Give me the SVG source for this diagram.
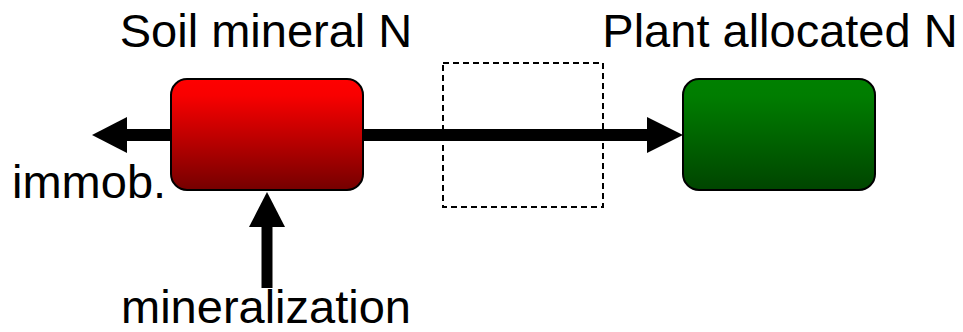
<svg xmlns="http://www.w3.org/2000/svg" width="963" height="332" viewBox="0 0 963 332">
<defs>
<linearGradient id="gRed" x1="0" y1="0" x2="0" y2="1">
<stop offset="0" stop-color="#ff0000"/>
<stop offset="0.15" stop-color="#f80000"/>
<stop offset="1" stop-color="#750000"/>
</linearGradient>
<linearGradient id="gGreen" x1="0" y1="0" x2="0" y2="1">
<stop offset="0" stop-color="#008000"/>
<stop offset="0.15" stop-color="#007d00"/>
<stop offset="1" stop-color="#004500"/>
</linearGradient>
<style>
.box{stroke:#000;stroke-width:2}
.lbl{font-family:"Liberation Sans",Arial,sans-serif;font-size:47px;fill:#000}
.shaft{stroke:#000;stroke-width:12;fill:none}
.head{fill:#000}
</style>
</defs>
<rect x="443" y="63" width="160" height="144" fill="none" stroke="#000" stroke-width="2" stroke-dasharray="6,4"/>
<g id="connectors">
<line class="shaft" x1="127" y1="135" x2="172" y2="135"/>
<polygon class="head" points="92,135 127,117 127,153"/>
<line class="shaft" x1="362" y1="135" x2="648" y2="135"/>
<polygon class="head" points="683,135 647,117 647,153"/>
<line class="shaft" x1="267" y1="226" x2="267" y2="288" style="stroke-width:11"/>
<polygon class="head" points="267,192 249,227 285,227"/>
</g>
<g id="soil">
<rect class="box" x="171" y="79" width="192" height="111" rx="16" fill="url(#gRed)"/>
<text class="lbl" x="266" y="47" text-anchor="middle">Soil mineral N</text>
</g>
<g id="plant">
<rect class="box" x="683" y="79" width="192" height="111" rx="16" fill="url(#gGreen)"/>
<text class="lbl" x="780" y="47" text-anchor="middle">Plant allocated N</text>
</g>
<g id="immob">
<text class="lbl" x="12" y="198">immob.</text>
</g>
<g id="mineralization">
<text class="lbl" x="266" y="323" text-anchor="middle">mineralization</text>
</g>
</svg>
